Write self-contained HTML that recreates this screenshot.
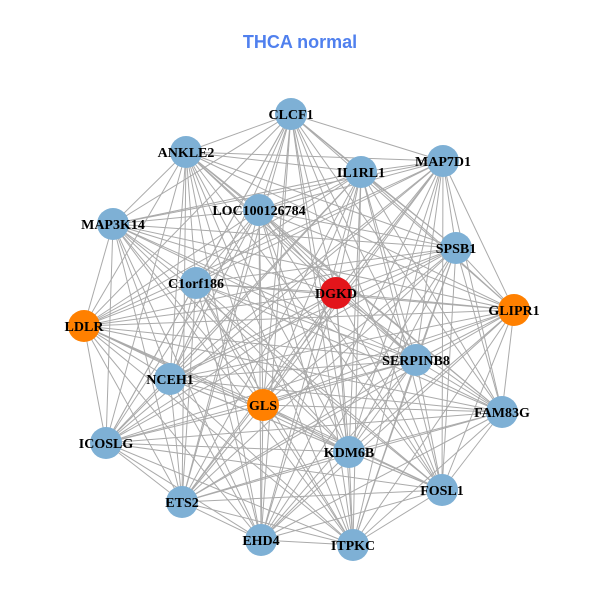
<!DOCTYPE html>
<html><head><meta charset="utf-8"><style>
html,body{margin:0;padding:0;background:#fff;}
svg{display:block;}
</style></head><body>
<svg id="g" width="600" height="600" xmlns="http://www.w3.org/2000/svg">
<text x="300" y="48" text-anchor="middle" font-family="Liberation Sans, sans-serif" font-weight="bold" font-size="18" fill="#5080ee">THCA normal</text>
<g id="edges" stroke="#aaaaaa" stroke-width="1"></g>
<g id="nodes"></g>
<g id="labels" font-family="Liberation Serif, serif" font-weight="bold" font-size="14" fill="#000" text-anchor="middle"></g>
</svg>
<script>
var N=[["CLCF1",291,114,"b"],["ANKLE2",186,152,"b"],["IL1RL1",361,172,"b"],["MAP7D1",443,161,"b"],
["LOC100126784",259,210,"b"],["MAP3K14",113,224,"b"],["SPSB1",456,248,"b"],["C1orf186",196,283,"b"],
["DGKD",336,293,"r"],["GLIPR1",514,310,"o"],["LDLR",84,326,"o"],["SERPINB8",416,360,"b"],
["NCEH1",170,379,"b"],["GLS",263,405,"o"],["FAM83G",502,412,"b"],["ICOSLG",106,443,"b"],
["KDM6B",349,452,"b"],["FOSL1",442,490,"b"],["ETS2",182,502,"b"],["EHD4",261,540,"b"],["ITPKC",353,545,"b"]];
var col={b:"#7eb0d5",r:"#e3151b",o:"#ff8000"};
var ns="http://www.w3.org/2000/svg";
var E=document.getElementById("edges"),Nd=document.getElementById("nodes"),L=document.getElementById("labels");
for(var i=0;i<N.length;i++)for(var j=i+1;j<N.length;j++){
 var l=document.createElementNS(ns,"line");
 l.setAttribute("x1",N[i][1]);l.setAttribute("y1",N[i][2]);l.setAttribute("x2",N[j][1]);l.setAttribute("y2",N[j][2]);
 E.appendChild(l);}
N.forEach(function(n){
 var c=document.createElementNS(ns,"circle");
 c.setAttribute("cx",n[1]);c.setAttribute("cy",n[2]);c.setAttribute("r",16);c.setAttribute("fill",col[n[3]]);
 Nd.appendChild(c);
 var t=document.createElementNS(ns,"text");
 t.setAttribute("x",n[1]);t.setAttribute("y",n[2]+5);t.textContent=n[0];
 L.appendChild(t);
});
</script>
</body></html>
